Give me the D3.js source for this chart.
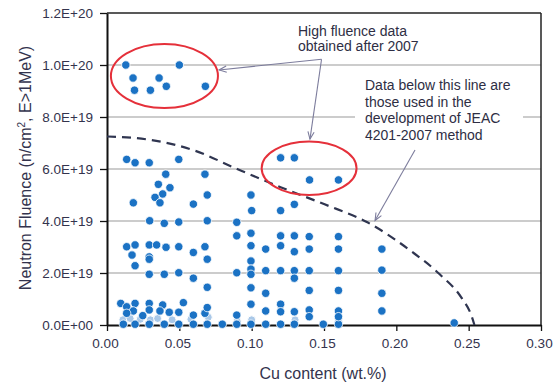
<!DOCTYPE html>
<html><head><meta charset="utf-8">
<script src="https://cdn.jsdelivr.net/npm/d3@7"></script>
<style>body{margin:0;background:#fff;}svg{display:block;}</style>
</head><body>
<svg id="c" width="560" height="382"></svg>
<script>
// ---- data (fluence in units of 1e19 n/cm2) ----
const xTicks = [0, 0.05, 0.10, 0.15, 0.20, 0.25, 0.30];
const xTickLabels = ["0.00","0.05","0.10","0.15","0.20","0.25","0.30"];
const yTicks = [0, 2, 4, 6, 8, 10, 12];
const yTickLabels = ["0.0E+00","2.0E+19","4.0E+19","6.0E+19","8.0E+19","1.0E+20","1.2E+20"];

// high fluence data obtained after 2007
const cuPost      = [0.013,0.050,0.018,0.036,0.019,0.030,0.041,0.068, 0.120,0.1295,0.140,0.160];
const fluencePost = [10.0, 10.0, 9.5,  9.5,  9.03, 9.03, 9.18, 9.18,  6.43, 6.43,  5.58, 5.58];

// data used for JEAC 4201-2007
const cuJeac = [0.0136,0.0194,0.0292,0.0496,0.0406,0.0677,0.0355,0.0435,0.0385,0.0332,0.0366,0.0182,0.0597,0.0693,0.0295,0.0396,0.0496,0.0693,
  0.0136,0.0194,0.0292,0.0343,0.0408,0.0496,0.0597,0.0677,0.0173,0.0292,0.0292,0.0194,0.0693,0.0292,0.0396,0.0496,0.0597,0.0693,
  0.0095,0.0194,0.0292,0.0385,0.0528,0.0136,0.0182,0.0292,0.0366,0.043,0.0496,0.0597,0.0677,0.0693,0.0247,0.0136,
  0.0113,0.0194,0.0292,0.0396,0.0496,0.0597,0.0693,0.0797,0.0897,0.0995,0.1097,0.120,0.1295,0.1495,0.160,0.240,
  0.0995,0.100,0.120,0.1295,0.0897,0.0897,0.0995,0.0995,0.1097,0.120,0.120,0.1295,0.1295,0.1398,0.1398,0.160,0.160,
  0.0897,0.0995,0.0995,0.0995,0.1097,0.120,0.1295,0.1295,0.1398,0.160,0.0995,0.1097,0.1398,0.160,
  0.0995,0.1097,0.120,0.120,0.1295,0.1398,0.1398,0.160,0.160,0.0897,0.190,0.190,0.190,0.190];
const fluenceJeac = [6.37,6.24,6.24,6.37,5.80,5.80,5.41,5.28,5.04,4.91,4.70,4.70,4.65,5.0,4.01,3.91,3.96,4.01,
  3.01,3.08,3.08,3.08,2.99,3.01,2.79,3.01,2.69,2.62,2.53,2.28,2.53,1.95,1.95,2.01,1.80,1.45,
  0.83,0.83,0.83,0.77,0.86,0.70,0.54,0.58,0.54,0.49,0.49,0.38,0.45,0.67,0.36,0.45,
  0.03,0.03,0.03,0.03,0.03,0.03,0.03,0.03,0.03,0.03,0.03,0.03,0.03,0.03,0.03,0.08,
  5.0,4.40,4.40,4.64,3.95,3.43,3.53,3.05,2.92,3.43,3.05,3.43,2.82,3.40,2.92,3.40,2.92,
  2.01,2.46,2.15,1.95,2.09,2.09,2.09,1.80,2.09,2.09,1.43,1.22,1.33,1.33,
  0.80,0.54,0.80,0.51,0.51,0.58,0.32,0.54,0.32,0.38,2.92,2.11,1.22,0.54];

// faint (overlapping) low-fluence points
const cuFaint = [0.011,0.016,0.023,0.030,0.035,0.045,0.058,0.070,0.090,0.100,0.130,0.160];
const fluenceFaint = [0.20,0.25,0.22,0.20,0.25,0.20,0.22,0.30,0.15,0.20,0.20,0.20];

// dashed boundary line of the JEAC data
const boundaryCu = [0, 0.03, 0.06, 0.09, 0.12, 0.15, 0.18, 0.21, 0.23, 0.245, 0.252, 0.254];
const boundaryFl = [7.25, 7.12, 6.72, 6.0, 5.3, 4.65, 3.95, 2.85, 1.95, 1.05, 0.35, 0];

// ---- chart ----
const svg = d3.select("#c");
const x = d3.scaleLinear().domain([0, 0.30]).range([107, 541]);
const y = d3.scaleLinear().domain([0, 12]).range([325, 13]);
const txt = "#33334d";
const font = "'Liberation Sans', Arial, sans-serif";

// gridlines
svg.append("g").selectAll("line").data(yTicks.slice(1, -1)).join("line")
  .attr("x1", x(0)).attr("x2", x(0.30))
  .attr("y1", d => y(d)).attr("y2", d => y(d))
  .attr("stroke", "#9a9a9a").attr("stroke-width", 1.2);

// frame top/right
svg.append("line").attr("x1", x(0)).attr("x2", x(0.30)).attr("y1", y(12)).attr("y2", y(12))
  .attr("stroke", "#222").attr("stroke-width", 1.3);
svg.append("line").attr("x1", x(0.30)).attr("x2", x(0.30)).attr("y1", y(12)).attr("y2", y(0))
  .attr("stroke", "#222").attr("stroke-width", 1.5);

// axes
const xAxis = d3.axisBottom(x).tickValues(xTicks).tickFormat((d, i) => xTickLabels[i]).tickSize(6).tickSizeOuter(0);
const gx = svg.append("g").attr("transform", `translate(0,${y(0)})`).call(xAxis);
gx.select(".domain").attr("stroke", "#111").attr("stroke-width", 1.8);
gx.selectAll(".tick line").attr("stroke", "#111").attr("stroke-width", 1.3);
gx.selectAll("text").attr("fill", txt).attr("font-family", font).attr("font-size", 13.5)
  .attr("dy", "1.0em").attr("dx", -2);

const yAxis = d3.axisLeft(y).tickValues(yTicks).tickFormat((d, i) => yTickLabels[i]).tickSize(7).tickSizeOuter(0);
const gy = svg.append("g").attr("transform", `translate(${x(0)},0)`).call(yAxis);
gy.select(".domain").attr("stroke", "#111").attr("stroke-width", 2);
gy.selectAll(".tick line").attr("stroke", "#111").attr("stroke-width", 1.3);
gy.selectAll("text").attr("fill", txt).attr("font-family", font).attr("font-size", 13.5).attr("x", -14);

// axis titles
svg.append("text").attr("x", (x(0) + x(0.30)) / 2 - 1).attr("y", 379)
  .attr("text-anchor", "middle").attr("fill", txt).attr("font-family", font).attr("font-size", 16)
  .text("Cu content (wt.%)");
const yt = svg.append("text").attr("transform", `translate(31,${(y(0) + y(12)) / 2 - 1}) rotate(-90)`)
  .attr("text-anchor", "middle").attr("fill", txt).attr("font-family", font).attr("font-size", 16);
yt.append("tspan").text("Neutron Fluence (n/cm");
yt.append("tspan").attr("font-size", 10).attr("dy", -6).text("2");
yt.append("tspan").attr("dy", 6).text(", E>1MeV)");

// white box behind the lower annotation text
svg.append("rect").attr("x", 355).attr("y", 74).attr("width", 168).attr("height", 70).attr("fill", "#fff");

// dashed boundary
const bData = boundaryCu.map((c, i) => [c, boundaryFl[i]]);
svg.append("path").datum(bData)
  .attr("d", d3.line().x(d => x(d[0])).y(d => y(d[1])).curve(d3.curveMonotoneX))
  .attr("fill", "none").attr("stroke", "#2f3550").attr("stroke-width", 2.2).attr("stroke-dasharray", "9,6");

// points
const pt = (cu, fl) => cu.map((c, i) => [c, fl[i]]);
const blue = "#1b72c4";
svg.append("g").selectAll("circle").data(pt(cuFaint, fluenceFaint)).join("circle")
  .attr("cx", d => x(d[0])).attr("cy", d => y(d[1])).attr("r", 4)
  .attr("fill", "#a9c8e8").attr("stroke", "#fff").attr("stroke-width", 1);
svg.append("g").selectAll("circle").data(pt(cuJeac, fluenceJeac).concat(pt(cuPost, fluencePost))).join("circle")
  .attr("cx", d => x(d[0])).attr("cy", d => y(d[1])).attr("r", 4.2)
  .attr("fill", blue).attr("stroke", "#fff").attr("stroke-width", 0.8);

// red ellipses
const ell = [[0.0397, 9.58, 0.037, 1.23], [0.1397, 6.03, 0.0328, 1.03]];
svg.append("g").selectAll("ellipse").data(ell).join("ellipse")
  .attr("cx", d => x(d[0])).attr("cy", d => y(d[1]))
  .attr("rx", d => x(d[2]) - x(0)).attr("ry", d => y(0) - y(d[3]))
  .attr("fill", "none").attr("stroke", "#e5303a").attr("stroke-width", 2);

// arrows
const arrowCol = "#7c7c9c";
function arrow(p0, p1) {
  const [x0, y0] = [x(p0[0]), y(p0[1])], [x1, y1] = [x(p1[0]), y(p1[1])];
  svg.append("line").attr("x1", x0).attr("y1", y0).attr("x2", x1).attr("y2", y1)
    .attr("stroke", arrowCol).attr("stroke-width", 1.1);
  const a = Math.atan2(y1 - y0, x1 - x0), L = 8, w = 0.4;
  svg.append("path")
    .attr("d", `M${x1 - L * Math.cos(a - w)},${y1 - L * Math.sin(a - w)}L${x1},${y1}L${x1 - L * Math.cos(a + w)},${y1 - L * Math.sin(a + w)}`)
    .attr("fill", "none").attr("stroke", arrowCol).attr("stroke-width", 1.1);
}
const vertex = [0.1483, 10.22];
arrow(vertex, [0.0775, 9.81]);
arrow(vertex, [0.1403, 7.15]);
arrow([0.2129, 6.73], [0.1853, 4.02]);

// annotation texts
const note = (lines, x0, y0, dy) => {
  const t = svg.append("text").attr("fill", "#2e2e44").attr("font-family", font).attr("font-size", 14);
  lines.forEach((l, i) => t.append("tspan").attr("x", x0).attr("y", y0 + i * dy).text(l));
};
note(["High fluence data", "obtained after 2007"], 298, 36, 15);
note(["Data below this line are", "those used in the", "development of JEAC", "4201-2007 method"], 365, 90, 16.7);
</script>
</body></html>
